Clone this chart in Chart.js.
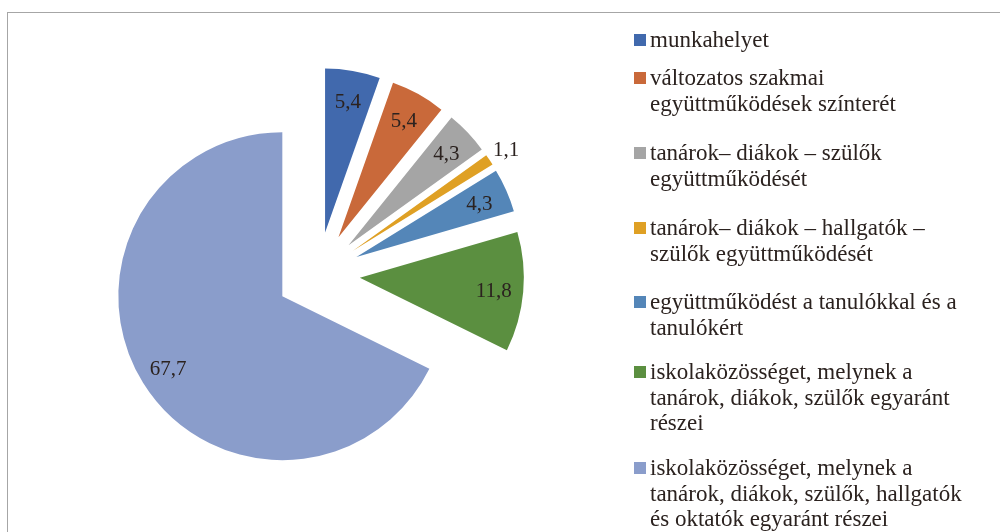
<!DOCTYPE html>
<html lang="hu">
<head>
  <meta charset="UTF-8" />
  <title>Pie chart</title>
  <script src="https://cdn.jsdelivr.net/npm/chart.js"></script>
  <style>
    html, body { margin: 0; padding: 0; background: #fff; overflow: hidden; }
    body { width: 1000px; height: 532px; position: relative; font-family: "Liberation Serif", "DejaVu Serif", serif; }
    #frame { position: absolute; left: 7px; top: 12px; width: 1100px; height: 600px; border: 1px solid #a6a6a6; box-sizing: border-box; }
    #chart-wrap { position: absolute; left: 0; top: 0; width: 636px; height: 548px; }
    #legend { position: absolute; left: 634px; top: 0; width: 366px; }
    .legend-item { position: absolute; left: 0; color: #2b221f; font-size: 23px; line-height: 25.5px; white-space: nowrap; }
    .legend-item .box { position: absolute; left: 0; top: 7px; width: 12px; height: 12px; }
    .legend-item .txt { margin-left: 16px; }
  </style>
</head>
<body>
  <div id="frame"></div>
  <div id="chart-wrap"><canvas id="pieChart" width="636" height="548"></canvas></div>
  <div id="legend"></div>

  <script>
    // categories (legend lines as they wrap in the original)
    const categories = [
      ["munkahelyet"],
      ["változatos szakmai", "együttműködések színterét"],
      ["tanárok– diákok – szülők", "együttműködését"],
      ["tanárok– diákok – hallgatók –", "szülők együttműködését"],
      ["együttműködést a tanulókkal és a", "tanulókért"],
      ["iskolaközösséget, melynek a", "tanárok, diákok, szülők egyaránt", "részei"],
      ["iskolaközösséget, melynek a", "tanárok, diákok, szülők, hallgatók", "és oktatók egyaránt részei"]
    ];
    const values = [5.4, 5.4, 4.3, 1.1, 4.3, 11.8, 67.7];
    const colors = ["#4169ad", "#c9693a", "#a5a5a5", "#dfa024", "#5486b8", "#5b8f40", "#8a9dcb"];

    const EXPLODE = 42;   // every slice pulled out from the centre
    const textColor = "#2b221f";

    // move each arc outwards along its bisector (like Excel's pie explosion)
    const explodePlugin = {
      id: "explode",
      afterDatasetUpdate(chart, args) {
        args.meta.data.forEach(arc => {
          const mid = (arc.startAngle + arc.endAngle) / 2;
          arc.x += Math.cos(mid) * EXPLODE;
          arc.y += Math.sin(mid) * EXPLODE;
        });
      }
    };

    // value labels, inside the slice, small ones outside
    const valueLabels = {
      id: "valueLabels",
      afterDatasetsDraw(chart) {
        const ctx = chart.ctx;
        const meta = chart.getDatasetMeta(0);
        ctx.save();
        ctx.font = '21px "Liberation Serif", serif';
        ctx.fillStyle = textColor;
        ctx.textAlign = "center";
        ctx.textBaseline = "middle";
        meta.data.forEach((arc, i) => {
          const v = chart.data.datasets[0].data[i];
          const mid = (arc.startAngle + arc.endAngle) / 2;
          const r = v < 2 ? arc.outerRadius + 20 : arc.outerRadius * 0.82;
          const x = arc.x + Math.cos(mid) * r;
          const y = arc.y + Math.sin(mid) * r + 2;
          ctx.fillText(String(v).replace(".", ","), x, y);
        });
        ctx.restore();
      }
    };

    const ctx = document.getElementById("pieChart").getContext("2d");
    const chart = new Chart(ctx, {
      type: "pie",
      data: {
        labels: categories.map(c => c.join(" ")),
        datasets: [{
          data: values,
          backgroundColor: colors,
          borderWidth: 0
        }]
      },
      options: {
        responsive: false,
        animation: false,
        radius: 164,
        layout: { padding: 0 },
        plugins: {
          legend: { display: false },
          tooltip: { enabled: false }
        }
      },
      plugins: [explodePlugin, valueLabels]
    });

    // HTML legend so the long labels can wrap like the original
    const legendTops = [27, 65, 140, 215, 289, 359, 455];
    const legend = document.getElementById("legend");
    categories.forEach((lines, i) => {
      const item = document.createElement("div");
      item.className = "legend-item";
      item.style.top = legendTops[i] + "px";
      const box = document.createElement("span");
      box.className = "box";
      box.style.background = colors[i];
      const txt = document.createElement("div");
      txt.className = "txt";
      txt.innerHTML = lines.join("<br>");
      item.appendChild(box);
      item.appendChild(txt);
      legend.appendChild(item);
    });
  </script>
</body>
</html>
